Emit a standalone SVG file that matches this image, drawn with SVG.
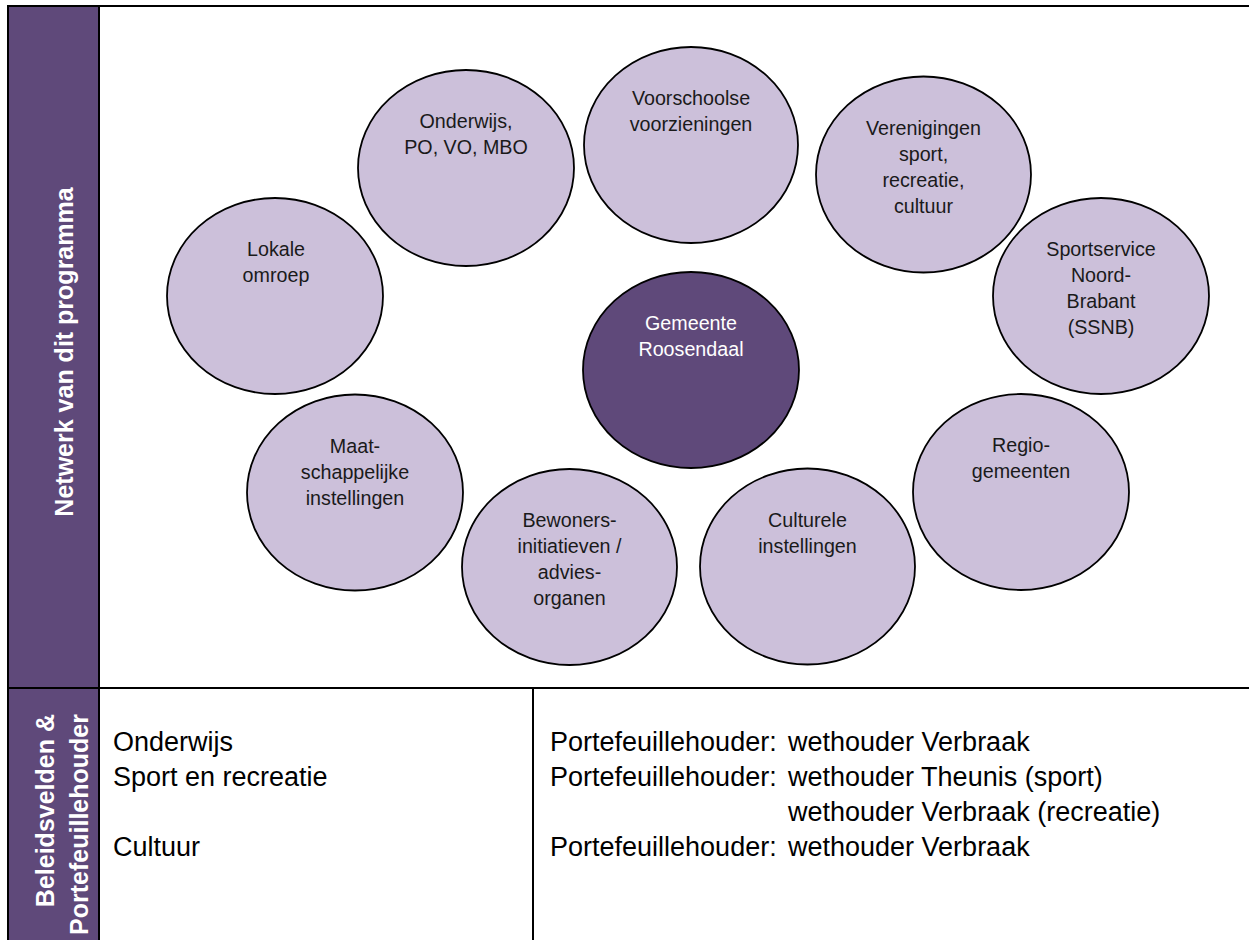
<svg xmlns="http://www.w3.org/2000/svg" width="1249" height="940" viewBox="0 0 1249 940">
<style>
.bg{fill:#ffffff}
.bar{fill:#5f497a}
.rule{stroke:#000000;stroke-width:2;fill:none}
.node ellipse{fill:#ccc0da;stroke:#000000;stroke-width:1.8}
.node.main ellipse{fill:#5f497a}
.node text{font-family:"Liberation Sans",Arial,sans-serif;font-size:19.7px;fill:#1a1a1a;text-anchor:middle}
.node.main text{fill:#ffffff}
.bartxt{font-family:"Liberation Sans",Arial,sans-serif;font-size:25px;font-weight:bold;fill:#ffffff}
.cell{font-family:"Liberation Sans",Arial,sans-serif;font-size:27px;fill:#000000}
</style>
<rect class="bg" x="0" y="0" width="1249" height="940"/>
<g id="table">
<rect class="bar" x="8" y="6" width="91" height="934"/>
<line class="rule" x1="7" y1="6" x2="1249" y2="6"/>
<line class="rule" x1="8" y1="5" x2="8" y2="940"/>
<line class="rule" x1="99" y1="6" x2="99" y2="940"/>
<line class="rule" x1="8" y1="688" x2="1249" y2="688"/>
<line class="rule" x1="533" y1="688" x2="533" y2="940"/>
<text class="bartxt" transform="translate(73,352) rotate(-90)" text-anchor="middle">Netwerk van dit programma</text>
<text class="bartxt" transform="translate(54,714) rotate(-90)" text-anchor="end">Beleidsvelden &amp;</text>
<text class="bartxt" transform="translate(88,714) rotate(-90)" text-anchor="end">Portefeuillehouder</text>
</g>
<g id="connectors"></g>
<g id="n-lokale" class="node"><ellipse cx="275" cy="296" rx="108" ry="98"/><text x="276" y="256">Lokale</text><text x="276" y="282">omroep</text></g>
<g id="n-onderwijs" class="node"><ellipse cx="466" cy="168" rx="108" ry="98"/><text x="466" y="128">Onderwijs,</text><text x="466" y="154">PO, VO, MBO</text></g>
<g id="n-voorschoolse" class="node"><ellipse cx="691" cy="145" rx="107" ry="98"/><text x="691" y="105">Voorschoolse</text><text x="691" y="131">voorzieningen</text></g>
<g id="n-verenigingen" class="node"><ellipse cx="923.5" cy="174.5" rx="107.5" ry="98"/><text x="923.5" y="135">Verenigingen</text><text x="923.5" y="161">sport,</text><text x="923.5" y="187">recreatie,</text><text x="923.5" y="213">cultuur</text></g>
<g id="n-sportservice" class="node"><ellipse cx="1101" cy="296" rx="108" ry="98"/><text x="1101" y="256">Sportservice</text><text x="1101" y="282">Noord-</text><text x="1101" y="308">Brabant</text><text x="1101" y="334">(SSNB)</text></g>
<g id="n-gemeente" class="node main"><ellipse cx="691" cy="370" rx="108" ry="98"/><text x="691" y="330">Gemeente</text><text x="691" y="356">Roosendaal</text></g>
<g id="n-regio" class="node"><ellipse cx="1021" cy="492" rx="108" ry="98"/><text x="1021" y="452">Regio-</text><text x="1021" y="478">gemeenten</text></g>
<g id="n-culturele" class="node"><ellipse cx="807.5" cy="566.5" rx="107.5" ry="98"/><text x="807.5" y="526.5">Culturele</text><text x="807.5" y="552.5">instellingen</text></g>
<g id="n-bewoners" class="node"><ellipse cx="569.5" cy="567" rx="107.5" ry="98"/><text x="569.5" y="527">Bewoners-</text><text x="569.5" y="553">initiatieven /</text><text x="569.5" y="579">advies-</text><text x="569.5" y="605">organen</text></g>
<g id="n-maat" class="node"><ellipse cx="355" cy="492.5" rx="108" ry="98"/><text x="355" y="452.5">Maat-</text><text x="355" y="478.5">schappelijke</text><text x="355" y="504.5">instellingen</text></g>
<g id="beleidsvelden">
<text class="cell" x="113" y="751">Onderwijs</text>
<text class="cell" x="113" y="786">Sport en recreatie</text>
<text class="cell" x="113" y="856">Cultuur</text>
</g>
<g id="portefeuillehouders">
<text class="cell" x="550" y="751">Portefeuillehouder:</text>
<text class="cell" x="788" y="751">wethouder Verbraak</text>
<text class="cell" x="550" y="786">Portefeuillehouder:</text>
<text class="cell" x="788" y="786">wethouder Theunis (sport)</text>
<text class="cell" x="788" y="821">wethouder Verbraak (recreatie)</text>
<text class="cell" x="550" y="856">Portefeuillehouder:</text>
<text class="cell" x="788" y="856">wethouder Verbraak</text>
</g>
</svg>
